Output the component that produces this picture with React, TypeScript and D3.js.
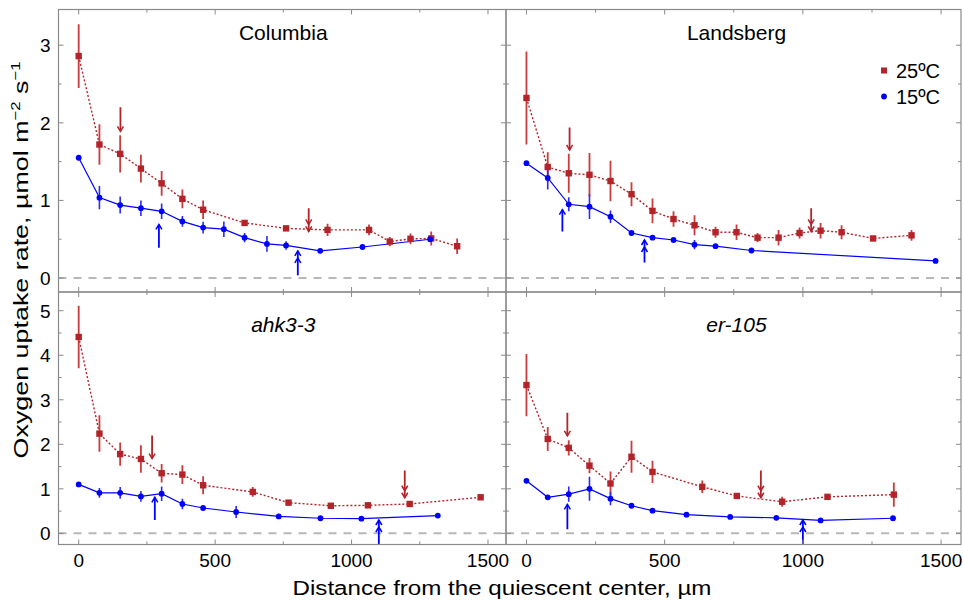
import { useEffect, useRef } from "react";
import * as d3 from "d3";

// each row: [distance from QC (µm), O2 uptake rate, error half-width]
const columbia25 = [
  [0, 2.86, 0.41], [76, 1.72, 0.26], [152, 1.6, 0.24], [228, 1.41, 0.18], [304, 1.22, 0.16],
  [380, 1.02, 0.12], [456, 0.88, 0.12], [608, 0.71, 0.03], [760, 0.64, 0.03], [912, 0.62, 0.08],
  [1064, 0.62, 0.07], [1140, 0.47, 0.06], [1216, 0.505, 0.07], [1292, 0.51, 0.09], [1387, 0.41, 0.1],
];
const columbia15 = [
  [0, 1.55, 0], [76, 1.036, 0.15], [152, 0.94, 0.11], [228, 0.9, 0.1], [304, 0.86, 0.1],
  [380, 0.73, 0.07], [456, 0.65, 0.075], [532, 0.63, 0.1], [608, 0.52, 0.06], [690, 0.44, 0.1],
  [760, 0.42, 0.055], [885, 0.35, 0.02], [1040, 0.4, 0.02], [1288, 0.5, 0.03],
];
const landsberg25 = [
  [0, 2.32, 0.6], [77, 1.43, 0.19], [153, 1.35, 0.25], [228, 1.33, 0.28], [304, 1.25, 0.26],
  [380, 1.08, 0.155], [456, 0.865, 0.16], [532, 0.76, 0.1], [608, 0.68, 0.13], [684, 0.59, 0.07],
  [760, 0.59, 0.1], [836, 0.52, 0.06], [912, 0.52, 0.1], [988, 0.58, 0.07], [1064, 0.61, 0.1],
  [1140, 0.59, 0.09], [1254, 0.51, 0.03], [1393, 0.55, 0.07],
];
const landsberg15 = [
  [0, 1.48, 0], [77, 1.29, 0.15], [153, 0.95, 0.09], [228, 0.92, 0.16], [304, 0.79, 0.08],
  [380, 0.58, 0.02], [456, 0.52, 0.02], [532, 0.49, 0.02], [608, 0.43, 0.06], [684, 0.41, 0.02],
  [814, 0.355, 0.02], [1480, 0.22, 0],
];
const ahk25 = [
  [0, 4.41, 0.7], [76, 2.24, 0.41], [152, 1.78, 0.26], [228, 1.67, 0.31], [304, 1.35, 0.21],
  [380, 1.32, 0.21], [456, 1.08, 0.2], [638, 0.93, 0.11], [769, 0.69, 0.03], [924, 0.62, 0.03],
  [1060, 0.63, 0.03], [1213, 0.66, 0.03], [1473, 0.81, 0.04],
];
const ahk15 = [
  [0, 1.1, 0], [76, 0.91, 0.11], [152, 0.91, 0.13], [228, 0.83, 0.12], [304, 0.89, 0.165],
  [380, 0.66, 0.12], [456, 0.57, 0.03], [577, 0.48, 0.135], [733, 0.38, 0.02], [886, 0.34, 0.02],
  [1036, 0.33, 0.02], [1316, 0.4, 0.02],
];
const er25 = [
  [0, 3.33, 0.7], [77, 2.12, 0.27], [153, 1.92, 0.17], [228, 1.52, 0.17], [304, 1.12, 0.27],
  [380, 1.72, 0.36], [456, 1.38, 0.25], [636, 1.045, 0.14], [761, 0.84, 0.05], [925, 0.71, 0.11],
  [1089, 0.82, 0.05], [1329, 0.87, 0.27],
];
const er15 = [
  [0, 1.18, 0], [77, 0.81, 0.05], [153, 0.88, 0.17], [228, 1.0, 0.27], [304, 0.78, 0.15],
  [380, 0.62, 0.02], [456, 0.51, 0.02], [579, 0.42, 0.02], [737, 0.37, 0.02], [904, 0.35, 0.02],
  [1064, 0.29, 0.02], [1326, 0.34, 0.02],
];

// arrows: [distance, from, to, number of heads]
const columbiaRedArrows = [[153, 2.2, 1.89, 1], [843, 0.9, 0.6, 2]];
const columbiaBlueArrows = [[294, 0.39, 0.69, 1], [803, 0.035, 0.35, 2]];
const landsbergRedArrows = [[156, 1.94, 1.65, 1], [1030, 0.9, 0.6, 2]];
const landsbergBlueArrows = [[130, 0.6, 0.88, 1], [427, 0.2, 0.49, 2]];
const ahkRedArrows = [[269, 2.2, 1.68, 1], [1195, 1.41, 0.8, 2]];
const ahkBlueArrows = [[279, 0.3, 0.81, 1], [1100, -0.3, 0.3, 2]];
const erRedArrows = [[148, 2.71, 2.19, 1], [848, 1.41, 0.8, 2]];
const erBlueArrows = [[148, 0.09, 0.65, 1], [1000, -0.3, 0.3, 2]];

const titles = ["Columbia", "Landsberg", "ahk3-3", "er-105"];
const legendLabels = ["25ºC", "15ºC"];
const xTicks = [0, 500, 1000, 1500];
const xMinor = [250, 750, 1250];
const yTicksTop = [0, 1, 2, 3];
const yTicksBottom = [0, 1, 2, 3, 4, 5];

const RED = "#b3232a";
const RED_ERR = "#cc3b3b";
const BLUE = "#0000ff";
const FONT = "'Liberation Sans', Arial, Helvetica, sans-serif";

export default function App() {
  const svgRef = useRef<SVGSVGElement>(null);

  useEffect(() => {
    const svg = d3.select(svgRef.current);
    svg.selectAll("*").remove();

    const cols = [[58.5, 506], [506, 961]];
    const rows = [[9.5, 292], [292, 544.5]];
    const xDomains = [[-74, 1566], [-74, 1572]];
    const yDomains = [[-0.18, 3.46], [-0.25, 5.42]];

    const panels = [
      { title: titles[0], italic: false, r: 0, c: 0, red: columbia25, blue: columbia15, ra: columbiaRedArrows, ba: columbiaBlueArrows },
      { title: titles[1], italic: false, r: 0, c: 1, red: landsberg25, blue: landsberg15, ra: landsbergRedArrows, ba: landsbergBlueArrows },
      { title: titles[2], italic: true, r: 1, c: 0, red: ahk25, blue: ahk15, ra: ahkRedArrows, ba: ahkBlueArrows },
      { title: titles[3], italic: true, r: 1, c: 1, red: er25, blue: er15, ra: erRedArrows, ba: erBlueArrows },
    ];

    const defs = svg.append("defs");

    panels.forEach((p, i) => {
      const [x0, x1] = cols[p.c];
      const [y0, y1] = rows[p.r];
      const x = d3.scaleLinear().domain(xDomains[p.c]).range([x0, x1]);
      const y = d3.scaleLinear().domain(yDomains[p.r]).range([y1, y0]);
      const yTicks = p.r === 0 ? yTicksTop : yTicksBottom;
      const yMinor = yTicks.map((t) => t + 0.5).filter((t) => y(t) > y0);

      defs.append("clipPath").attr("id", `clip${i}`)
        .append("rect").attr("x", x0).attr("y", y0).attr("width", x1 - x0).attr("height", y1 - y0);

      const g = svg.append("g");
      const plot = g.append("g").attr("clip-path", `url(#clip${i})`);

      // zero reference
      plot.append("line")
        .attr("x1", x0).attr("x2", x1).attr("y1", y(0)).attr("y2", y(0))
        .attr("stroke", "#b8b8b8").attr("stroke-width", 2).attr("stroke-dasharray", "8,7");

      const line = d3.line<number[]>().x((d) => x(d[0])).y((d) => y(d[1]));

      plot.append("path").datum(p.red).attr("d", line)
        .attr("fill", "none").attr("stroke", RED).attr("stroke-width", 1.4).attr("stroke-dasharray", "2,2");
      plot.append("path").datum(p.blue).attr("d", line)
        .attr("fill", "none").attr("stroke", BLUE).attr("stroke-width", 1.2);

      // error bars
      plot.selectAll(".err-red").data(p.red.filter((d) => d[2] > 0)).enter().append("line")
        .attr("x1", (d) => x(d[0])).attr("x2", (d) => x(d[0]))
        .attr("y1", (d) => y(d[1] - d[2])).attr("y2", (d) => y(d[1] + d[2]))
        .attr("stroke", RED_ERR).attr("stroke-width", 1.8);
      plot.selectAll(".err-blue").data(p.blue.filter((d) => d[2] > 0)).enter().append("line")
        .attr("x1", (d) => x(d[0])).attr("x2", (d) => x(d[0]))
        .attr("y1", (d) => y(d[1] - d[2])).attr("y2", (d) => y(d[1] + d[2]))
        .attr("stroke", "#2a2aff").attr("stroke-width", 1.6);

      // markers
      plot.selectAll(".sq").data(p.red).enter().append("rect")
        .attr("x", (d) => x(d[0]) - 3.2).attr("y", (d) => y(d[1]) - 3.2)
        .attr("width", 6.4).attr("height", 6.4).attr("fill", RED);
      plot.selectAll(".dot").data(p.blue).enter().append("circle")
        .attr("cx", (d) => x(d[0])).attr("cy", (d) => y(d[1])).attr("r", 2.9).attr("fill", BLUE);

      // arrows
      const drawArrows = (arr: number[][], color: string) => {
        arr.forEach(([ax, from, to, heads]) => {
          const px = x(ax);
          const pf = y(from);
          const pt = y(to);
          const dir = pt > pf ? -1 : 1; // direction back along the stem
          plot.append("line").attr("x1", px).attr("x2", px).attr("y1", pf).attr("y2", pt)
            .attr("stroke", color).attr("stroke-width", 1.8);
          for (let h = 0; h < heads; h++) {
            const tip = pt + dir * h * 7;
            plot.append("path")
              .attr("d", `M${px - 3},${tip + dir * 5}L${px},${tip}L${px + 3},${tip + dir * 5}`)
              .attr("fill", "none").attr("stroke", color).attr("stroke-width", 1.5);
          }
        });
      };
      drawArrows(p.ra, RED);
      drawArrows(p.ba, BLUE);

      // frame
      g.append("rect").attr("x", x0).attr("y", y0).attr("width", x1 - x0).attr("height", y1 - y0)
        .attr("fill", "none").attr("stroke", "#8a8a8a").attr("stroke-width", 1.2);

      // inside ticks, all four sides
      const tickColor = "#8a8a8a";
      const xt = xTicks.map((t) => [t, 5]).concat(xMinor.map((t) => [t, 3]));
      xt.forEach(([t, len]) => {
        const px = x(t);
        g.append("line").attr("x1", px).attr("x2", px).attr("y1", y1).attr("y2", y1 - len)
          .attr("stroke", tickColor).attr("stroke-width", 1);
        g.append("line").attr("x1", px).attr("x2", px).attr("y1", y0).attr("y2", y0 + len)
          .attr("stroke", tickColor).attr("stroke-width", 1);
      });
      const yt = yTicks.map((t) => [t, 5]).concat(yMinor.map((t) => [t, 3]));
      yt.forEach(([t, len]) => {
        const py = y(t);
        g.append("line").attr("x1", x0).attr("x2", x0 + len).attr("y1", py).attr("y2", py)
          .attr("stroke", tickColor).attr("stroke-width", 1);
        g.append("line").attr("x1", x1).attr("x2", x1 - len).attr("y1", py).attr("y2", py)
          .attr("stroke", tickColor).attr("stroke-width", 1);
      });

      if (p.c === 0) {
        g.selectAll(".ylab").data(yTicks).enter().append("text")
          .attr("x", x0 - 8).attr("y", (d) => y(d) + 7)
          .attr("text-anchor", "end").attr("font-family", FONT).attr("font-size", 19)
          .text((d) => d);
      }
      if (p.r === 1) {
        g.selectAll(".xlab").data(xTicks).enter().append("text")
          .attr("x", (d) => x(d)).attr("y", 567)
          .attr("text-anchor", "middle").attr("font-family", FONT).attr("font-size", 19)
          .text((d) => d);
      }

      g.append("text")
        .attr("x", (x0 + x1) / 2 + (p.c === 0 ? 1 : 3)).attr("y", p.r === 0 ? y0 + 30 : y0 + 39.5)
        .attr("text-anchor", "middle").attr("font-family", FONT).attr("font-size", 21)
        .attr("font-style", p.italic ? "italic" : "normal")
        .text(p.title);

      if (i === 1) {
        const lg = g.append("g").attr("font-family", FONT).attr("font-size", 20);
        lg.append("rect").attr("x", 881).attr("y", 67.5).attr("width", 6).attr("height", 6).attr("fill", RED);
        lg.append("text").attr("x", 896).attr("y", 77.5).text(legendLabels[0]);
        lg.append("circle").attr("cx", 884).attr("cy", 96.5).attr("r", 2.9).attr("fill", BLUE);
        lg.append("text").attr("x", 896).attr("y", 103.5).text(legendLabels[1]);
      }
    });

    // axis titles (the source lettering is wide, so stretch along the text direction)
    svg.append("text")
      .attr("transform", "translate(502,595) scale(1.15,1)")
      .attr("text-anchor", "middle").attr("font-family", FONT).attr("font-size", 21)
      .text("Distance from the quiescent center, µm");

    const yl = svg.append("text")
      .attr("transform", "translate(28,260) rotate(-90) scale(1.28,1)")
      .attr("text-anchor", "middle").attr("font-family", FONT).attr("font-size", 21);
    yl.append("tspan").text("Oxygen uptake rate, µmol m");
    yl.append("tspan").attr("font-size", 13).attr("dy", -8).text("−2");
    yl.append("tspan").attr("dy", 8).text(" s");
    yl.append("tspan").attr("font-size", 13).attr("dy", -8).text("−1");
  }, []);

  return (
    <svg
      ref={svgRef}
      width={964}
      height={600}
      style={{ position: "absolute", left: 0, top: 0, background: "#fff" }}
    />
  );
}
